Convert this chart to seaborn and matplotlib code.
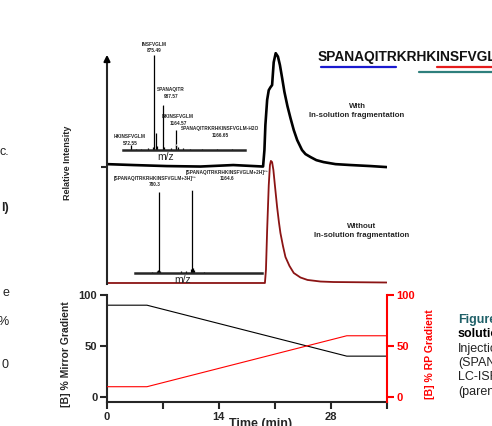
import numpy as np
import pandas as pd
import seaborn as sns
import matplotlib.pyplot as plt
from matplotlib.lines import Line2D

# LC trace with in-solution fragmentation (time in min, relative intensity %)
with_t = [0, 3.3, 7.5, 11.7, 15.8, 19.53, 19.7, 19.82, 20.04, 20.24, 20.45, 20.66, 20.86, 21.11,
          21.39, 21.64, 21.92, 22.2, 22.58, 22.96, 23.37, 23.8, 24.4, 24.84, 25.47, 26.2, 27.1,
          28.6, 30.5, 33.0, 35.0]
with_i = [2.6, 1.8, 0.9, 0.5, 1.8, 0.5, 15, 37, 59, 67.5, 70, 72, 92, 100,
          97, 89.5, 78, 66, 53.5, 43, 32.5, 23.7, 15, 11.4, 8.8, 6.1, 4.4,
          2.6, 1.8, 0.9, 0]

# LC trace without in-solution fragmentation
without_t = [0, 11.7, 19.76, 19.89, 20.04, 20.24, 20.39, 20.51, 20.66, 20.82, 21.01, 21.29, 21.51,
             21.7, 22.02, 22.33, 22.83, 23.37, 24.21, 25.09, 26.72, 28.35, 31.74, 35.0]
without_i = [0, 0, 0, 10.7, 43.4, 80, 96.7, 100, 99, 92.6, 80, 62, 50,
             41, 30.3, 21.3, 14, 8.2, 4.5, 2.5, 1.2, 0.8, 0.6, 0.4]

# gradients
grad_t = [0, 5, 30, 35]
mirror_b = [90, 90, 40, 40]
rp_b = [10, 10, 60, 60]

# MS spectrum with fragmentation
ms1_mz = [572.55, 640, 700, 790, 860, 875.49, 895, 910, 987.57, 1000, 1100, 1164.57, 1166.65,
          1185, 1250, 1350, 1500, 1700, 1900]
ms1_int = [5, 1.5, 1, 2, 3, 100, 18, 4, 47, 3, 2, 21, 6, 3, 2, 1.5, 1.5, 1.5, 1]
ms1_labels = ["INSFVGLM\n875.49", "SPANAQITR\n987.57", "HKINSFVGLM\n1164.57",
              "SPANAQITRKRHKINSFVGLM-H2O\n1166.65", "HKINSFVGLM\n572.55"]

# MS spectrum without fragmentation
ms2_mz = [700, 760, 770, 780.3, 792, 1040, 1100, 1150, 1164.6, 1175, 1186, 1300]
ms2_int = [1.5, 3, 4, 98, 3, 2, 2, 5, 100, 6, 4, 1.5]
ms2_labels = ["[SPANAQITRKRHKINSFVGLM+3H]\u00b3\u207a\n780.3",
              "[SPANAQITRKRHKINSFVGLM+2H]\u00b2\u207a\n1164.6"]

sns.set_style("ticks")
plt.rcParams['font.family'] = ['Liberation Sans', 'DejaVu Sans']
plt.rcParams['axes.linewidth'] = 1.5

W, H = 492, 426
fig = plt.figure(figsize=(W / 100, H / 100), dpi=100)

def box(x0, y0, x1, y1):
    return [x0 / W, 1 - y1 / H, (x1 - x0) / W, (y1 - y0) / H]

# ---- chromatograms
ax = fig.add_axes(box(107, 52, 386.7, 285))
ax.patch.set_alpha(0)
lc_with = pd.DataFrame({'t': with_t, 'y': 0.506 + 0.489 * np.array(with_i) / 100})
lc_without = pd.DataFrame({'t': without_t, 'y': 0.0086 + 0.524 * np.array(without_i) / 100})
sns.lineplot(data=lc_with, x='t', y='y', color='black', lw=1.9, ax=ax, estimator=None)
sns.lineplot(data=lc_without, x='t', y='y', color='#8b1414', lw=1.3, ax=ax, estimator=None)
ax.set_xlim(0, 35)
ax.set_ylim(0, 1)
ax.set_xticks([])
ax.set_yticks([0.506])
ax.set_yticklabels([])
ax.tick_params(axis='y', length=4, width=1.5)
for s in ['top', 'right', 'bottom']:
    ax.spines[s].set_visible(False)
ax.spines['left'].set_bounds(0.005, 0.97)
ax.annotate('', xy=(0, 1.0), xytext=(0, 0.95), xycoords='axes fraction',
            arrowprops=dict(arrowstyle='-|>', color='black', lw=1.5, mutation_scale=9))
ax.set_xlabel('')
ax.set_ylabel('Relative Intensity', fontsize=6.5, fontweight='bold')
ax.yaxis.set_label_coords((72 - 107) / 279.7, (285 - 163) / 233)

fig.text(357 / W, 1 - 111 / H, "With\nIn-solution fragmentation", ha='center', va='center',
         fontsize=5.7, fontweight='bold', linespacing=1.5)
fig.text(362 / W, 1 - 231 / H, "Without\nIn-solution fragmentation", ha='center', va='center',
         fontsize=5.7, fontweight='bold', linespacing=1.5)

# ---- spectrum 1
s1 = fig.add_axes(box(123, 55, 245, 150))
s1.patch.set_alpha(0)
s1.vlines(ms1_mz, 0, ms1_int, color='black', lw=0.9)
s1.set_xlim(469, 2067)
s1.set_ylim(0, 100)
s1.set_xticks([])
s1.set_yticks([])
sns.despine(ax=s1, left=True)
s1.spines['bottom'].set_linewidth(1.8)
s1.set_xlabel('m/z', fontsize=7.5)
s1.xaxis.set_label_coords((166 - 123) / 122, -0.02)
lab_kw = dict(fontsize=3.4, fontweight='bold', ha='center', va='center', linespacing=1.3,
              annotation_clip=False)
s1.annotate(ms1_labels[0], xy=(875.49, 108), **lab_kw)
s1.annotate(ms1_labels[1], xy=(987.57, 47), xytext=(1098, 60),
            arrowprops=dict(arrowstyle='-', lw=0.8, relpos=(0.25, 0), shrinkA=0, shrinkB=0), **lab_kw)
s1.annotate(ms1_labels[2], xy=(1189, 31.5), **lab_kw)
s1.annotate(ms1_labels[3], xy=(1166.65, 5), xytext=(1740, 19),
            arrowprops=dict(arrowstyle='-', lw=0.8, relpos=(0.2, 0), shrinkA=0, shrinkB=0), **lab_kw)
s1.annotate(ms1_labels[4], xy=(561, 10.5), **lab_kw)

# ---- spectrum 2
s2 = fig.add_axes(box(135, 190, 262, 273))
s2.patch.set_alpha(0)
s2.vlines(ms2_mz, 0, ms2_int, color='black', lw=0.9)
s2.set_xlim(501, 1980)
s2.set_ylim(0, 100)
s2.set_xticks([])
s2.set_yticks([])
sns.despine(ax=s2, left=True)
s2.spines['bottom'].set_linewidth(1.8)
s2.set_xlabel('m/z', fontsize=7.5)
s2.xaxis.set_label_coords((183 - 135) / 127, -0.02)
s2.annotate(ms2_labels[0], xy=(734, 110), **lab_kw)
s2.annotate(ms2_labels[1], xy=(1164.6, 100), xytext=(1573, 117),
            arrowprops=dict(arrowstyle='-', lw=0.8, relpos=(0.42, 0), shrinkA=0, shrinkB=0), **lab_kw)

# ---- gradients
g = fig.add_axes(box(107, 295, 386.7, 402))
sns.lineplot(x=grad_t, y=mirror_b, color='black', lw=0.8, ax=g)
g.set_xlim(0, 35)
g.set_ylim(-5, 100)
g.set_xticks([0, 14, 28])
g.set_xticks([7, 21, 35], minor=True)
g.set_yticks([0, 50, 100])
g.tick_params(axis='both', which='both', length=5, width=1.5, labelsize=8, pad=2)
for t in g.get_xticklabels() + g.get_yticklabels():
    t.set_fontweight('bold')
g.spines['top'].set_visible(False)
g.spines['right'].set_visible(False)
g.set_ylabel('[B] % Mirror Gradient', fontsize=7.5, fontweight='bold')
g.yaxis.set_label_coords((71 - 107) / 279.7, 0.45)
g.set_xlabel('Time (min)', fontsize=9, fontweight='bold')
g.xaxis.set_label_coords((261 - 107) / 279.7, -0.15)

g2 = g.twinx()
sns.lineplot(x=grad_t, y=rp_b, color='red', lw=0.8, ax=g2)
g2.set_ylim(-5, 100)
g2.set_yticks([0, 50, 100])
g2.tick_params(axis='y', length=5, width=1.5, labelsize=8, pad=2, colors='red')
for t in g2.get_yticklabels():
    t.set_fontweight('bold')
for s in ['top', 'left', 'bottom']:
    g2.spines[s].set_visible(False)
g2.spines['right'].set_color('red')
g2.set_ylabel('[B] % RP Gradient', fontsize=7.5, fontweight='bold', color='red')
g2.yaxis.set_label_coords(1 + (425 - 386.7) / 279.7, 0.45)

# ---- peptide sequence
fig.text(318 / W, 1 - 57 / H, "SPANAQITRKRHKINSFVGLM", fontsize=9.9, fontweight='bold',
         va='center', color='#111111')
fig.add_artist(Line2D([321 / W, 396 / W], [1 - 67 / H] * 2, color='#1a1ad0', lw=1.6))
fig.add_artist(Line2D([437 / W, 492 / W], [1 - 67 / H] * 2, color='#e51c1c', lw=1.6))
fig.add_artist(Line2D([419 / W, 492 / W], [1 - 72 / H] * 2, color='#2e7f7c', lw=1.6))

# ---- cut-off poster text around the chart
for txt, y, bold in [("c.", 152, False), ("l)", 208, True), ("e", 293, False),
                     ("%", 322, False), ("0", 365, False)]:
    fig.text(9 / W, 1 - y / H, txt, ha='right', va='center', fontsize=9, color='#222222',
             fontweight='bold' if bold else 'normal')
side = [("Figure", 320, '#1f6068', 'bold'), ("solution", 334, 'black', 'bold'),
        ("Injection", 349, '#222222', 'normal'), ("(SPANAQ", 363, '#222222', 'normal'),
        ("LC-ISF", 377, '#222222', 'normal'), ("(parent", 392, '#222222', 'normal')]
for txt, y, c, w in side:
    fig.text(458 / W, 1 - y / H, txt, ha='left', va='center', fontsize=9, color=c, fontweight=w)

fig.savefig('out.png', dpi=100)
